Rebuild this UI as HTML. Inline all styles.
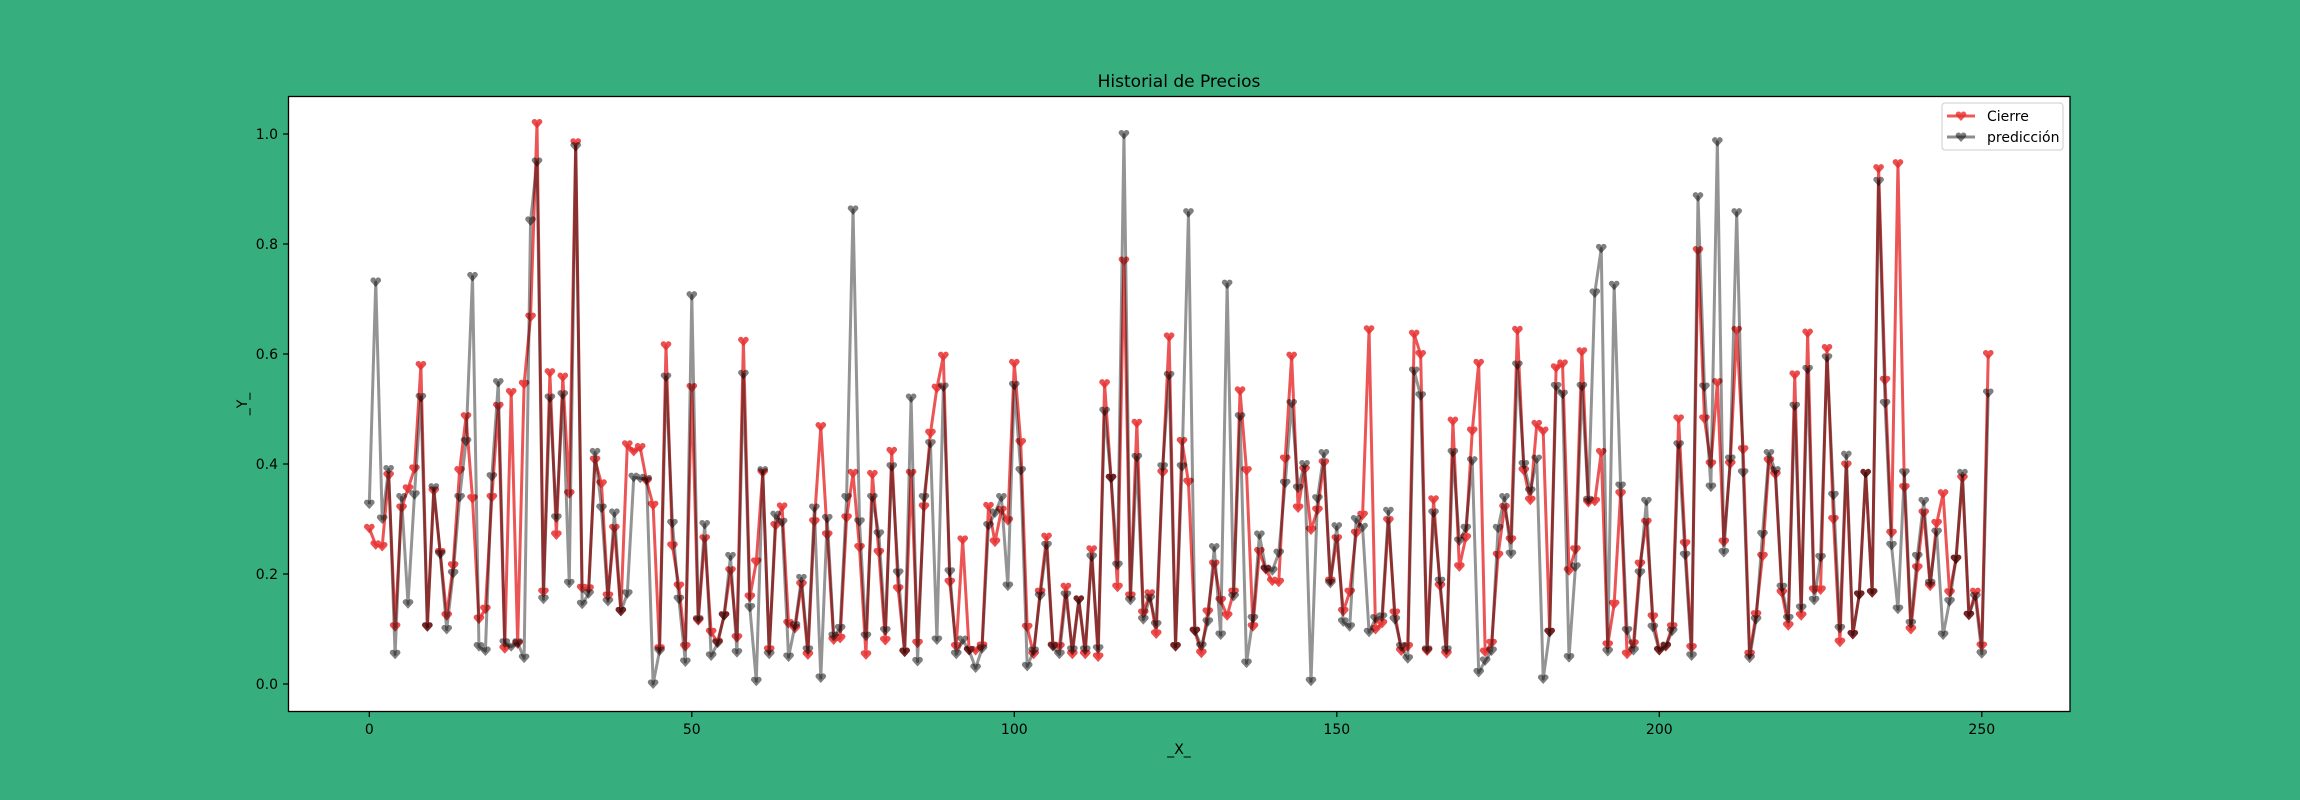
<!DOCTYPE html>
<html><head><meta charset="utf-8"><style>
html,body{margin:0;padding:0;background:#37ae7e;}
svg{display:block;font-family:"DejaVu Sans","Liberation Sans",sans-serif;}
</style></head><body>
<svg id="chart" width="2300" height="800" viewBox="0 0 2300 800" xmlns="http://www.w3.org/2000/svg">
<rect x="0" y="0" width="2300" height="800" fill="#37ae7e"/>
<rect x="288.5" y="96.5" width="1781.5" height="615" fill="#ffffff"/>
<g id="series"></g>
<rect x="288.5" y="96.5" width="1781.5" height="615" fill="none" stroke="#000" stroke-width="1.3"/>
<g id="xticks"></g>
<g id="yticks"></g>
<text x="1179" y="87" font-size="17" text-anchor="middle" fill="#000">Historial de Precios</text>
<text x="1179" y="754" font-size="14" text-anchor="middle" fill="#000">_X_</text>
<text x="0" y="0" font-size="14" text-anchor="middle" fill="#000" transform="translate(247,404) rotate(-90)">_Y_</text>
<g>
<rect x="1942" y="103" width="121" height="47" rx="3" fill="#fff" fill-opacity="0.8" stroke="#cccccc" stroke-width="1"/>
<g>
<line x1="1947" y1="116" x2="1975" y2="116" stroke="#e83030" stroke-opacity="0.8" stroke-width="3"/>
<path id="lh1" d="" fill="#e83030" fill-opacity="0.8"/>
<text x="1987" y="121" font-size="14" fill="#000">Cierre</text>
</g>
<g>
<line x1="1947" y1="137" x2="1975" y2="137" stroke="#000" stroke-opacity="0.45" stroke-width="3"/>
<path id="lh2" d="" fill="#000" fill-opacity="0.5"/>
<text x="1987" y="142" font-size="14" fill="#000">predicción</text>
</g>
</g>
</svg>
<script>
const cierre = [0.283,0.253,0.250,0.379,0.104,0.320,0.355,0.391,0.579,0.104,0.351,0.239,0.124,0.215,0.388,0.486,0.337,0.118,0.136,0.339,0.505,0.064,0.530,0.073,0.545,0.667,1.019,0.167,0.566,0.271,0.558,0.346,0.984,0.174,0.173,0.407,0.364,0.160,0.283,0.132,0.435,0.423,0.430,0.369,0.325,0.064,0.615,0.251,0.178,0.068,0.539,0.115,0.264,0.094,0.076,0.124,0.206,0.084,0.623,0.158,0.222,0.384,0.062,0.288,0.322,0.110,0.101,0.181,0.053,0.295,0.468,0.271,0.080,0.083,0.302,0.383,0.248,0.053,0.381,0.239,0.079,0.423,0.173,0.058,0.383,0.074,0.322,0.456,0.538,0.596,0.185,0.068,0.262,0.061,0.061,0.069,0.323,0.258,0.316,0.297,0.583,0.439,0.103,0.054,0.167,0.267,0.069,0.068,0.176,0.054,0.153,0.054,0.244,0.049,0.546,0.374,0.176,0.769,0.160,0.474,0.129,0.164,0.091,0.384,0.631,0.068,0.441,0.367,0.096,0.056,0.131,0.218,0.152,0.124,0.167,0.533,0.388,0.104,0.241,0.208,0.187,0.185,0.409,0.596,0.320,0.390,0.280,0.316,0.402,0.187,0.264,0.132,0.167,0.274,0.307,0.644,0.099,0.110,0.297,0.129,0.060,0.068,0.636,0.599,0.060,0.335,0.178,0.055,0.478,0.213,0.266,0.460,0.583,0.058,0.074,0.234,0.321,0.262,0.643,0.388,0.334,0.472,0.460,0.094,0.575,0.582,0.206,0.244,0.604,0.330,0.332,0.421,0.071,0.145,0.346,0.054,0.073,0.218,0.294,0.122,0.061,0.068,0.104,0.482,0.255,0.066,0.788,0.482,0.400,0.548,0.258,0.400,0.643,0.426,0.054,0.126,0.232,0.406,0.381,0.166,0.106,0.562,0.124,0.638,0.171,0.171,0.610,0.299,0.076,0.398,0.090,0.162,0.383,0.166,0.937,0.552,0.274,0.946,0.357,0.099,0.211,0.311,0.178,0.292,0.346,0.166,0.227,0.374,0.125,0.167,0.069,0.599];
const prediccion = [0.327,0.731,0.300,0.390,0.054,0.339,0.146,0.344,0.521,0.104,0.357,0.236,0.099,0.201,0.339,0.441,0.741,0.068,0.060,0.377,0.548,0.075,0.068,0.075,0.047,0.842,0.949,0.154,0.520,0.302,0.526,0.183,0.977,0.145,0.164,0.421,0.320,0.150,0.311,0.132,0.164,0.376,0.374,0.372,0.000,0.060,0.558,0.292,0.154,0.040,0.706,0.117,0.290,0.051,0.074,0.124,0.232,0.057,0.563,0.139,0.005,0.388,0.054,0.307,0.294,0.049,0.106,0.192,0.062,0.320,0.011,0.301,0.087,0.101,0.339,0.862,0.295,0.087,0.339,0.273,0.097,0.395,0.202,0.058,0.520,0.041,0.339,0.437,0.080,0.540,0.204,0.054,0.080,0.061,0.029,0.064,0.288,0.311,0.339,0.178,0.543,0.388,0.032,0.060,0.160,0.252,0.068,0.054,0.162,0.062,0.153,0.062,0.231,0.064,0.496,0.374,0.216,0.999,0.152,0.412,0.117,0.156,0.108,0.395,0.561,0.068,0.395,0.857,0.096,0.069,0.113,0.248,0.089,0.727,0.159,0.486,0.038,0.119,0.271,0.209,0.206,0.238,0.365,0.510,0.356,0.399,0.005,0.337,0.419,0.183,0.286,0.113,0.104,0.299,0.285,0.094,0.119,0.122,0.314,0.117,0.068,0.046,0.569,0.524,0.062,0.311,0.187,0.062,0.421,0.260,0.283,0.406,0.021,0.042,0.060,0.283,0.339,0.236,0.580,0.399,0.351,0.409,0.009,0.094,0.541,0.527,0.048,0.213,0.541,0.334,0.711,0.792,0.059,0.725,0.360,0.097,0.061,0.202,0.332,0.103,0.061,0.069,0.096,0.435,0.234,0.051,0.886,0.540,0.358,0.986,0.239,0.409,0.857,0.384,0.047,0.117,0.272,0.419,0.388,0.176,0.119,0.505,0.138,0.572,0.152,0.230,0.593,0.343,0.101,0.416,0.090,0.162,0.383,0.166,0.914,0.510,0.252,0.136,0.384,0.110,0.232,0.332,0.183,0.276,0.089,0.150,0.227,0.383,0.125,0.159,0.055,0.529];
const xTickLabels = ["0","50","100","150","200","250"];
const yTickLabels = ["0.0","0.2","0.4","0.6","0.8","1.0"];

const NS = "http://www.w3.org/2000/svg";
const X0 = 369.3, XS = 6.45;
const Y0 = 684, YS = 550;
function xPix(i){ return X0 + i*XS; }
function yPix(v){ return Y0 - v*YS; }
function heart(cx, cy, s){
  // downward-pointing heart marker
  const r = s*0.27;
  return `M${cx},${cy+s*0.5} L${cx-s*0.5},${cy-s*0.05} A${r},${r} 0 0 1 ${cx},${cy-s*0.3} A${r},${r} 0 0 1 ${cx+s*0.5},${cy-s*0.05} Z`;
}
function mk(tag, attrs){ const e = document.createElementNS(NS, tag); for (const k in attrs) e.setAttribute(k, attrs[k]); return e; }

const layer = document.getElementById('series');
function drawSeries(vals, color, lineOp, markOp, name){
  const g = mk('g', {});
  
  
  const pts = vals.map((v,i)=>xPix(i).toFixed(2)+','+yPix(v).toFixed(2)).join(' ');
  const pl = mk('polyline', {points: pts, fill:'none', stroke: color, 'stroke-opacity': lineOp, 'stroke-width': 3, 'stroke-linejoin':'round'});
  
  
  g.appendChild(pl);
  let d = '';
  vals.forEach((v,i)=>{ d += heart(xPix(i), yPix(v), 10) + ' '; });
  const mp = mk('path', {d: d, fill: color, 'fill-opacity': markOp});
  
  
  g.appendChild(mp);
  layer.appendChild(g);
}
drawSeries(cierre, '#e83030', 0.82, 0.85, 'cierre-series');
drawSeries(prediccion, '#000000', 0.42, 0.5, 'prediccion-series');

document.getElementById('lh1').setAttribute('d', heart(1961,116,10));
document.getElementById('lh2').setAttribute('d', heart(1961,137,10));

const xg = document.getElementById('xticks');
xTickLabels.forEach(lbl=>{
  const x = xPix(parseFloat(lbl));
  const t = mk('line', {x1:x, y1:711.5, x2:x, y2:717, stroke:'#000', 'stroke-width':1.2});
  
  
  xg.appendChild(t);
  const tx = mk('text', {x:x, y:734, 'font-size':14, 'text-anchor':'middle', fill:'#000'});
  tx.textContent = lbl;
  
  
  xg.appendChild(tx);
});
const yg = document.getElementById('yticks');
yTickLabels.forEach(lbl=>{
  const y = yPix(parseFloat(lbl));
  const t = mk('line', {x1:283, y1:y, x2:288.5, y2:y, stroke:'#000', 'stroke-width':1.2});
  
  
  yg.appendChild(t);
  const tx = mk('text', {x:278, y:y+5, 'font-size':14, 'text-anchor':'end', fill:'#000'});
  tx.textContent = lbl;
  
  
  yg.appendChild(tx);
});
</script>
</body></html>
